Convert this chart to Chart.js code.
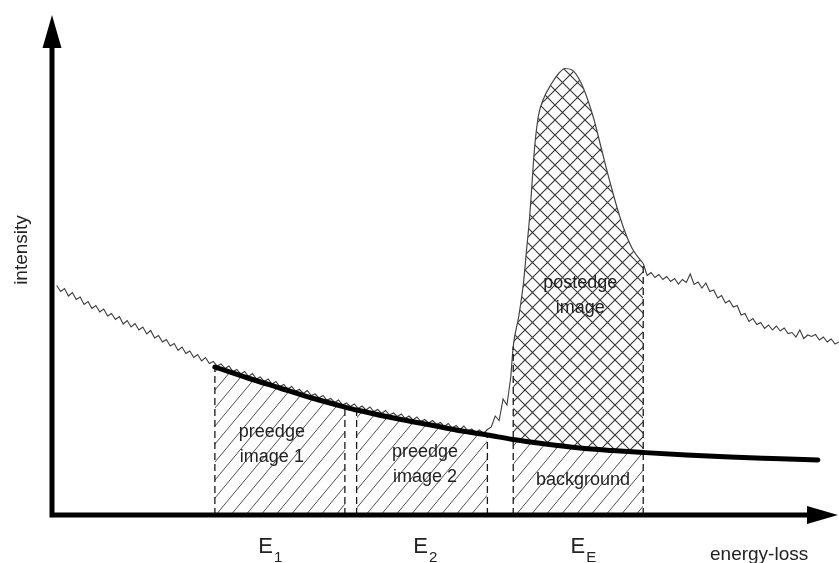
<!DOCTYPE html>
<html>
<head>
<meta charset="utf-8">
<script src="https://cdn.jsdelivr.net/npm/chart.js@4.4.0/dist/chart.umd.min.js"></script>
<style>
  html, body { margin: 0; padding: 0; background: #fff; }
  #wrap { width: 839px; height: 563px; }
</style>
</head>
<body>
<div id="wrap"><canvas id="eels"></canvas></div>
<script>
// recorded spectrum on a regular energy grid (arbitrary units)
var channelStep = 0.5;
var preEdgeStart = 0.6;
var preEdgeCounts = [
  45.9, 44.7, 45.3, 43.8, 44.5, 43.1, 43.6, 42.1, 42.7, 41.3,
  41.9, 40.6, 41.2, 39.8, 40.3, 39.1, 39.7, 38.2, 38.9, 37.6,
  38.3, 37.0, 37.6, 36.2, 36.9, 35.4, 35.9, 34.6, 35.1, 33.8,
  34.3, 32.9, 33.6, 32.3, 32.8, 31.5, 32.1, 30.8, 31.5, 30.3,
  30.7, 29.8, 30.2, 29.3, 29.8, 28.7, 29.1, 28.2, 28.7, 27.7,
  28.3, 27.2, 27.6, 26.7, 27.2, 26.2, 26.7, 25.7, 26.1, 25.2,
  25.7, 24.8, 25.1, 24.3, 24.9, 23.9, 24.2, 23.4, 23.9, 23.0,
  23.3, 22.5, 23.0, 22.0, 22.4, 21.7, 22.2, 21.3, 21.8, 21.0,
  21.6, 20.7, 21.1, 20.3, 20.9, 20.0, 20.4, 19.7, 20.2, 19.3,
  19.8, 19.0, 19.6, 18.7, 19.1, 18.4, 18.9, 18.1, 18.5, 17.7,
  18.3, 17.4, 17.9, 17.1, 17.8, 16.8, 17.2, 16.5, 17.0, 16.3,
  17.1, 17.6, 19.8, 18.9, 23.2, 22.0, 27.8
];
var postEdgeStart = 75.5;
var postEdgeCounts = [
  50.3, 47.9, 48.5, 47.5, 48.1, 47.1, 47.7, 46.7, 47.3, 46.2,
  47.1, 46.5, 48.2, 46.1, 46.6, 45.4, 46.4, 44.7, 45.0, 43.4,
  43.9, 42.4, 42.9, 41.6, 41.9, 40.0, 40.3, 38.7, 39.3, 38.1,
  38.5, 37.3, 38.0, 37.0, 37.8, 36.8, 37.4, 36.3, 36.5, 35.6,
  37.0, 35.3, 36.0, 35.7, 36.1, 35.0, 35.6, 34.6, 35.2, 34.2,
  34.6
];

// core-loss edge
var peakEnergy = [58.6, 58.9, 59.6, 60.2, 60.6, 61.0, 61.3, 61.6, 62.1, 62.7, 63.8,
                  64.7, 65.5, 66.4, 67.6, 69.1, 70.2, 71.3, 72.5, 73.4, 74.2, 75.5];
var peakCounts = [27.8, 33.7, 39.7, 46.3, 53.0, 59.7, 66.3, 73.0, 79.7, 83.0, 86.3,
                  88.3, 89.3, 89.0, 86.3, 79.7, 73.0, 66.3, 59.7, 55.7, 53.0, 50.3];

// extrapolated background under the edge
var bgEnergy = [20.8, 25.0, 29.1, 33.2, 37.4, 38.9, 43.0, 47.0, 51.3, 55.6,
                58.9, 63.0, 67.4, 71.5, 75.5, 81.0, 86.6, 92.0, 97.8];
var bgCounts = [29.6, 27.4, 25.4, 23.4, 21.6, 21.0, 19.6, 18.4, 17.1, 16.0,
                15.1, 14.2, 13.4, 12.9, 12.5, 12.0, 11.6, 11.3, 11.0];

// energy windows of the three filtered images
var windowStart = [20.8, 38.9, 58.9];
var windowEnd = [37.4, 55.6, 75.5];
var windowNames = [['preedge', 'image 1'], ['preedge', 'image 2'], ['postedge', 'image']];
var windowTicks = [['E', '1'], ['E', '2'], ['E', 'E']];

function grid(start, values) {
  return values.map(function (v, i) { return { x: start + i * channelStep, y: v }; });
}
function zip(xs, ys) {
  return xs.map(function (x, i) { return { x: x, y: ys[i] }; });
}
function bgSlice(from, to) {
  return zip(bgEnergy, bgCounts).slice(bgEnergy.indexOf(from), bgEnergy.indexOf(to) + 1);
}

// line hatch tiles: w x h tile gives lines of slope h/w
function hatch(w, h, color, width, cross) {
  var c = document.createElement('canvas');
  c.width = w; c.height = h;
  var g = c.getContext('2d');
  g.strokeStyle = color;
  g.lineWidth = width;
  g.beginPath();
  for (var k = -1; k <= 1; k++) {
    g.moveTo(k * w - w, 2 * h); g.lineTo(k * w + 2 * w, -h);
    if (cross) { g.moveTo(k * w - w, -h); g.lineTo(k * w + 2 * w, 2 * h); }
  }
  g.stroke();
  return g.createPattern(c, 'repeat');
}
var diagonal = hatch(15, 18, '#505050', 1, false);
var crossed = hatch(15, 15, '#383838', 1.15, true);

function dashed(x, top) {
  return {
    data: [{ x: x, y: 0 }, { x: x, y: top }],
    borderColor: '#1a1a1a', borderWidth: 1.3, borderDash: [7, 4],
    pointRadius: 0, fill: false, tension: 0
  };
}

var datasets = [
  { // background model
    data: zip(bgEnergy, bgCounts), borderColor: '#000', borderWidth: 5,
    borderCapStyle: 'round', cubicInterpolationMode: 'monotone', pointRadius: 0, fill: false
  },
  dashed(windowStart[0], bgCounts[bgEnergy.indexOf(windowStart[0])]),
  dashed(windowEnd[0], bgCounts[bgEnergy.indexOf(windowEnd[0])]),
  dashed(windowStart[1], bgCounts[bgEnergy.indexOf(windowStart[1])]),
  dashed(windowEnd[1], bgCounts[bgEnergy.indexOf(windowEnd[1])]),
  dashed(windowStart[2], peakCounts[peakEnergy.indexOf(windowStart[2])]),
  dashed(windowEnd[2], peakCounts[peakEnergy.indexOf(windowEnd[2])]),
  { data: grid(preEdgeStart, preEdgeCounts), borderColor: '#3c3c3c', borderWidth: 1.1, pointRadius: 0, tension: 0, fill: false },
  { data: grid(postEdgeStart, postEdgeCounts), borderColor: '#3c3c3c', borderWidth: 1.1, pointRadius: 0, tension: 0, fill: false },
  { // edge, crosshatched down to the background
    data: zip(peakEnergy, peakCounts), borderColor: '#444', borderWidth: 1.2,
    cubicInterpolationMode: 'monotone', pointRadius: 0, fill: 12, backgroundColor: crossed
  }
];
for (var w = 0; w < 3; w++) {
  datasets.push({
    data: bgSlice(windowStart[w], windowEnd[w]), borderWidth: 0, borderColor: 'rgba(0,0,0,0)',
    cubicInterpolationMode: 'monotone', pointRadius: 0, fill: 'origin', backgroundColor: diagonal
  });
}

var FONT = "'Liberation Sans', Arial, sans-serif";

var decorations = {
  id: 'decorations',
  afterDatasetsDraw: function (chart) {
    var ctx = chart.ctx, a = chart.chartArea;
    var xs = chart.scales.x, ys = chart.scales.y;
    var x0 = xs.getPixelForValue(0), y0 = ys.getPixelForValue(0);
    ctx.save();

    // axes with arrow heads
    ctx.strokeStyle = '#000';
    ctx.fillStyle = '#000';
    ctx.lineWidth = 5;
    ctx.beginPath();
    ctx.moveTo(x0, y0); ctx.lineTo(a.right - 25, y0);
    ctx.moveTo(x0, y0 + 2.5); ctx.lineTo(x0, a.top + 25);
    ctx.stroke();
    ctx.beginPath();
    ctx.moveTo(a.right - 1, y0); ctx.lineTo(a.right - 32, y0 - 9); ctx.lineTo(a.right - 32, y0 + 9);
    ctx.closePath();
    ctx.moveTo(x0, a.top); ctx.lineTo(x0 - 9.5, a.top + 33); ctx.lineTo(x0 + 9.5, a.top + 33);
    ctx.closePath();
    ctx.fill();

    ctx.fillStyle = '#222';
    ctx.textAlign = 'center';
    ctx.textBaseline = 'middle';

    // window captions
    ctx.font = '18px ' + FONT;
    var capShift = [-8, 3, 2];
    var capY = [16.6, 12.6, 46.4];
    for (var i = 0; i < 3; i++) {
      var cx = xs.getPixelForValue((windowStart[i] + windowEnd[i]) / 2) + capShift[i];
      var cy = ys.getPixelForValue(capY[i]);
      ctx.fillText(windowNames[i][0], cx, cy);
      ctx.fillText(windowNames[i][1], cx, cy + 25);
    }
    ctx.fillText('background', xs.getPixelForValue(67.8), ys.getPixelForValue(7));

    // energy labels under the axis
    var tickShift = [-11, 2, 3];
    for (var j = 0; j < 3; j++) {
      var tx = xs.getPixelForValue((windowStart[j] + windowEnd[j]) / 2) + tickShift[j];
      ctx.textAlign = 'right';
      ctx.textBaseline = 'alphabetic';
      ctx.font = '22px ' + FONT;
      ctx.fillText(windowTicks[j][0], tx + 4, y0 + 38);
      ctx.textAlign = 'left';
      ctx.font = '15px ' + FONT;
      ctx.fillText(windowTicks[j][1], tx + 5, y0 + 47);
    }

    ctx.textAlign = 'center';
    ctx.font = '19px ' + FONT;
    ctx.fillText('energy-loss', xs.getPixelForValue(90.3), y0 + 45);

    ctx.translate(22, ys.getPixelForValue(53));
    ctx.rotate(-Math.PI / 2);
    ctx.textBaseline = 'middle';
    ctx.fillText('intensity', 0, 0);
    ctx.restore();
  }
};

new Chart(document.getElementById('eels'), {
  type: 'line',
  data: { datasets: datasets },
  options: {
    responsive: true,
    maintainAspectRatio: false,
    animation: false,
    layout: { padding: { left: 52, top: 15, right: 0, bottom: 48 } },
    scales: {
      x: { type: 'linear', min: 0, max: 100.5, display: false },
      y: { type: 'linear', min: 0, max: 100, display: false }
    },
    plugins: { legend: { display: false }, tooltip: { enabled: false } }
  },
  plugins: [decorations]
});
</script>
</body>
</html>
